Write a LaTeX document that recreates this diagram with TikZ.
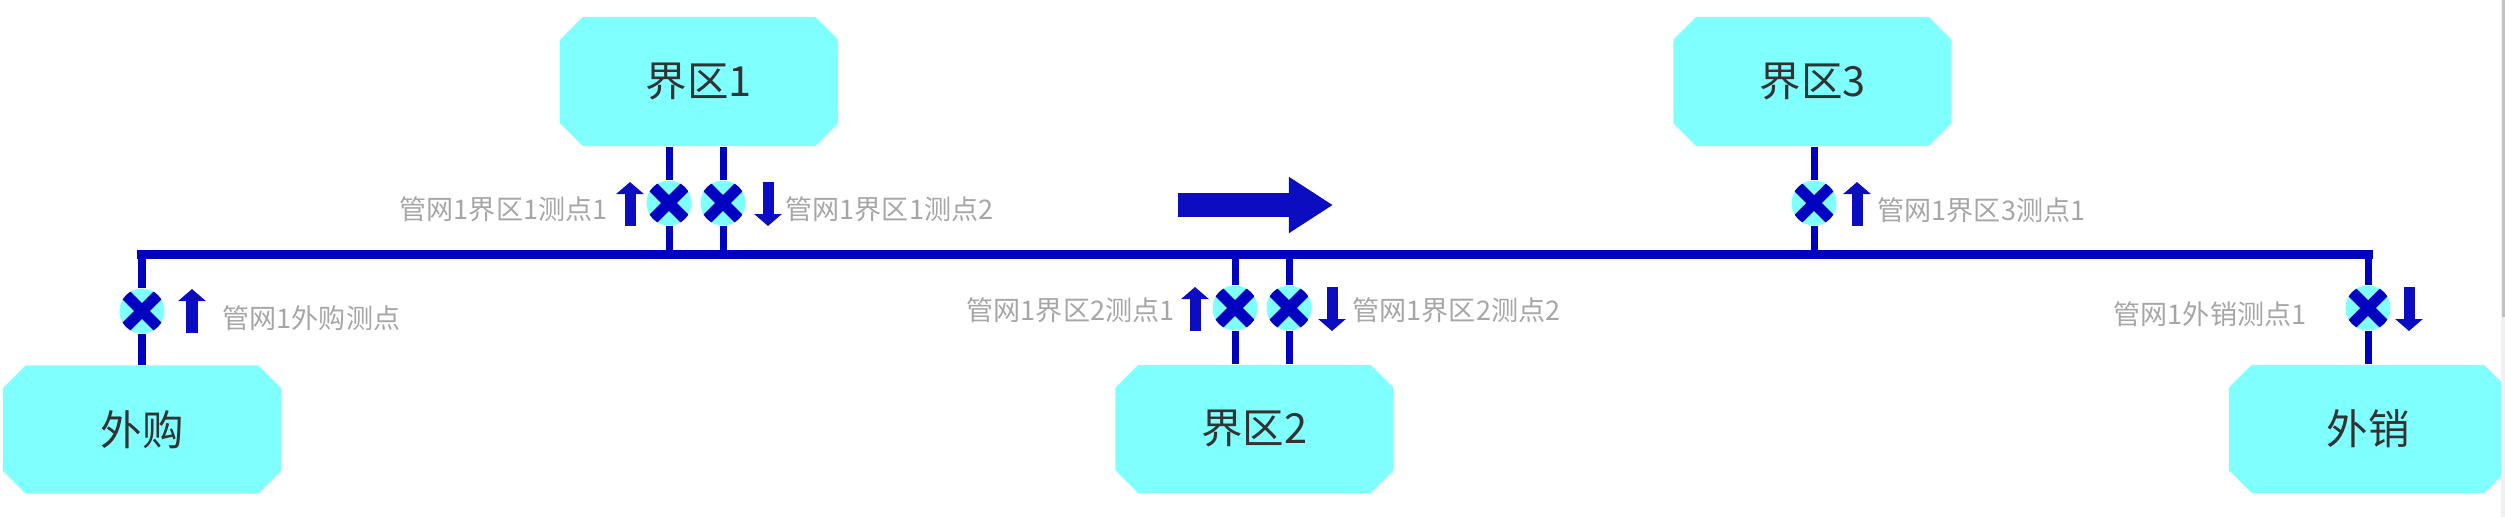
\documentclass[tikz,border=0pt]{standalone}
\usepackage{fontspec}
\setmainfont{Noto Sans CJK SC}
\usetikzlibrary{arrows.meta,calc,positioning,shapes.misc,shapes.geometric,backgrounds}
\definecolor{pnCyan}{HTML}{80FFFF}
\definecolor{pnPipe}{HTML}{0000C0}
\definecolor{pnMark}{HTML}{0C0CC0}
\definecolor{pnText}{HTML}{333333}
\definecolor{pnLabel}{HTML}{A6A6A6}
\definecolor{pnBar}{HTML}{F0F0F0}
\definecolor{pnThumb}{HTML}{C2C2C2}
\tikzset{
 net/.style={x=.01cm,y=-.01cm,line join=miter},
 zone/.style={chamfered rectangle,chamfered rectangle xsep=.1cm,fill=pnCyan,draw=none,
   inner sep=0pt,minimum width=2.78cm,minimum height=1.28cm,text=pnText,
   font=\fontsize{11.8pt}{14pt}\selectfont},
 valve/.style={circle,fill=pnCyan,inner sep=0pt,minimum size=.45cm,
   path picture={\draw[pnPipe,line width=.11cm]
     ($(path picture bounding box.center)!.82!(path picture bounding box.north west)$) --
     ($(path picture bounding box.center)!.82!(path picture bounding box.south east)$)
     ($(path picture bounding box.center)!.82!(path picture bounding box.north east)$) --
     ($(path picture bounding box.center)!.82!(path picture bounding box.south west)$);}},
 mainpipe/.style={draw=pnPipe,line width=.09cm,line cap=rect},
 branch/.style={draw=pnPipe,line width=.07cm},
 flowtip/.style={draw=pnMark,line width=.11cm,-{Triangle[length=.12cm,width=.27cm]}},
 bigflow/.style={draw=pnMark,line width=.24cm,-{Triangle[length=.44cm,width=.53cm]}},
 tag/.style={text=pnLabel,inner sep=0pt,font=\fontsize{7.7pt}{9pt}\selectfont}
}

\begin{document}
\begin{tikzpicture}[net]
 \useasboundingbox (0,0) rectangle (2505,517);
 % zones
 \node[zone] (buy) at (142,429.5) {外购};
 \node[zone,minimum height=1.29cm] (zone1) at (699,81.5) {界区1};
 \node[zone] (zone2) at (1254.5,429) {界区2};
 \node[zone,minimum height=1.29cm] (zone3) at (1812.5,81.5) {界区3};
 \node[zone] (sell) at (2368,429) {外销};
 % metering points
 \node[valve] (m0) at (142,311) {};
 \node[valve] (m11) at (669,203) {};
 \node[valve] (m12) at (723,203) {};
 \node[valve] (m21) at (1235,308) {};
 \node[valve] (m22) at (1289,308) {};
 \node[valve] (m31) at (1814,203) {};
 \node[valve] (m4) at (2368,308) {};
 \coordinate (west) at (142,254);
 \coordinate (east) at (2368,254);
 % pipes
 \begin{scope}[on background layer]
  \draw[mainpipe] (west) -- (east);
  \draw[branch] (buy.north) -- (m0) -- (west);
  \draw[branch] (sell.north) -- (m4) -- (east);
  \draw[branch] (zone1.south -| m11) -- (m11) -- (m11 |- west);
  \draw[branch] (zone1.south -| m12) -- (m12) -- (m12 |- west);
  \draw[branch] (zone2.north -| m21) -- (m21) -- (m21 |- west);
  \draw[branch] (zone2.north -| m22) -- (m22) -- (m22 |- west);
  \draw[branch] (zone3.south -| m31) -- (m31) -- (m31 |- west);
 \end{scope}
 % flow marks
 \draw[flowtip] ($(m0)+(50,22)$) -- ++(0,-44);
 \draw[flowtip] ($(m11)+(-39,23)$) -- ++(0,-44);
 \draw[flowtip] ($(m12)+(45,-21)$) -- ++(0,44);
 \draw[flowtip] ($(m21)+(-40,23)$) -- ++(0,-44);
 \draw[flowtip] ($(m22)+(43,-21)$) -- ++(0,44);
 \draw[flowtip] ($(m31)+(43,23)$) -- ++(0,-44);
 \draw[flowtip] ($(m4)+(41,-21)$) -- ++(0,44);
 \coordinate (dirA) at (1178,205);
 \coordinate (dirB) at (1333,205);
 \draw[bigflow] (dirA) -- (dirB);
 % labels
 \node[tag,anchor=west] (l0) at (222,318) {管网1外购测点};
 \node[tag,anchor=east] (l11) at (608,209) {管网1界区1测点1};
 \node[tag,anchor=west] (l12) at (785,209) {管网1界区1测点2};
 \node[tag,anchor=east] (l21) at (1175,310) {管网1界区2测点1};
 \node[tag,anchor=west] (l22) at (1352,310) {管网1界区2测点2};
 \node[tag,anchor=west] (l31) at (1877,210) {管网1界区3测点1};
 \node[tag,anchor=east] (l4) at (2307,314) {管网1外销测点1};
 % scroll bar
 \fill[pnBar] (2501,0) rectangle (2505,517);
 \fill[pnThumb] (2502,0) rectangle (2504.5,317);
\end{tikzpicture}
\end{document}
